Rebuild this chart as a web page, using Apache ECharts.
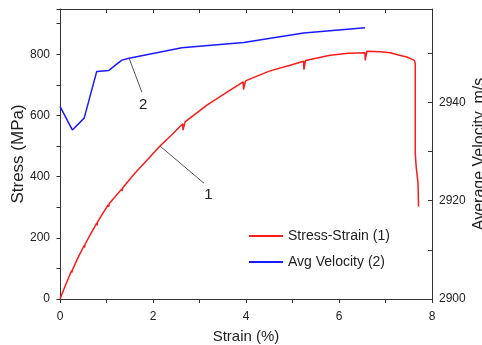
<!DOCTYPE html>
<html>
<head>
<meta charset="utf-8">
<script src="https://cdn.jsdelivr.net/npm/echarts@6/dist/echarts.min.js"></script>
<style>
  html, body { margin: 0; padding: 0; background: #fff; }
  #chart { width: 482px; height: 345px; }
</style>
</head>
<body>
<div id="chart"></div>
<script>
// stress-strain curve (1), small notches at each velocity reading
const strain = [
  0, 0.12, 0.25, 0.255, 0.27, 0.39, 0.52, 0.525, 0.54, 0.66, 0.79, 0.795, 0.81,
  0.92, 1.04, 1.045, 1.06, 1.19, 1.33, 1.335, 1.35, 1.61, 1.85, 2.15, 2.40,
  2.64, 2.645, 2.69, 3.16, 3.55, 3.94, 3.945, 3.99, 4.50, 4.95, 5.24, 5.245,
  5.28, 5.81, 6.20, 6.56, 6.565, 6.60, 6.89, 7.10, 7.30, 7.46, 7.62, 7.64,
  7.64, 7.66, 7.70, 7.71,
];
const stress = [
  0, 46, 93, 86, 96, 136, 175, 168, 179, 213, 248, 241, 252,
  280, 308, 301, 312, 335, 360, 353, 364, 411, 450, 500, 536,
  573, 552, 579, 634, 672, 710, 685, 713, 745, 764, 777, 750,
  780, 797, 803, 805, 780, 810, 808, 805, 797, 791, 780, 770,
  476, 432, 378, 302,
];

// average velocity (2)
const velStrain = [0, 0.265, 0.52, 0.79, 1.05, 1.33, 1.485, 2.62, 3.95, 5.24, 6.56];
const velocity = [2939.2, 2934.4, 2936.8, 2946.3, 2946.5, 2948.6, 2949.0, 2951.1, 2952.2, 2954.1, 2955.2];

// callouts "1" and "2"
const note1Line = [[2.15, 500], [3.10, 378]];
const note1Label = [3.19, 340];
const note2Line = [[1.485, 2949.0], [1.76, 2942.1]];
const note2Label = [1.79, 2939.4];

const names = ["Stress-Strain (1)", "Avg Velocity (2)"];

const INK = "#222";
const AXIS = "#333";
const FONT = "'Liberation Sans', Arial, sans-serif";
const TICK = { fontFamily: FONT, fontSize: 12, color: INK };
const TITLE = { fontFamily: FONT, fontSize: 16, color: INK };

const zip = (a, b) => a.map((v, i) => [v, b[i]]);

function callout(line, label, text) {
  return {
    markLine: {
      silent: true, symbol: "none", animation: false,
      lineStyle: { color: "#555", width: 1, type: "solid" },
      label: { show: false },
      data: [[{ coord: line[0] }, { coord: line[1] }]],
    },
    markPoint: {
      silent: true, symbolSize: 0, animation: false,
      label: { show: true, position: "inside", formatter: text,
        fontFamily: FONT, fontSize: 15, color: INK },
      data: [{ coord: label }],
    },
  };
}

const chart = echarts.init(document.getElementById("chart"), null, { renderer: "canvas" });
chart.setOption({
  animation: false,
  backgroundColor: "#fff",
  grid: { left: 60, right: 50, top: 9, bottom: 46, containLabel: false, outerBoundsMode: "none" },
  legend: {
    data: names, orient: "vertical", left: 243, top: 224,
    itemWidth: 34, itemHeight: 14, itemGap: 12,
    itemStyle: { opacity: 0 },
    textStyle: { fontFamily: FONT, fontSize: 14, color: INK },
  },
  xAxis: [
    {
      type: "value", min: 0, max: 8, interval: 1,
      name: "Strain (%)", nameLocation: "middle", nameGap: 30, nameMoveOverlap: false,
      nameTextStyle: { ...TITLE, fontSize: 15 },
      axisLine: { show: true, onZero: false, lineStyle: { color: AXIS } },
      axisTick: { show: true, inside: false, length: 4, lineStyle: { color: AXIS } },
      axisLabel: { ...TICK, margin: 12, formatter: (v) => (v % 2 === 0 ? String(v) : "") },
      splitLine: { show: false },
    },
    {
      type: "value", position: "top", min: 0, max: 8, interval: 1,
      axisLine: { show: true, onZero: false, lineStyle: { color: AXIS } },
      axisTick: { show: true, inside: true, length: 4, lineStyle: { color: AXIS } },
      axisLabel: { show: false },
      splitLine: { show: false },
    },
  ],
  yAxis: [
    {
      type: "value", min: 0, max: 948, interval: 100,
      name: "Stress (MPa)", nameLocation: "middle", nameGap: 33, nameRotate: 90,
      nameMoveOverlap: false,
      nameTextStyle: { ...TITLE, fontSize: 17 },
      axisLine: { show: true, onZero: false, lineStyle: { color: AXIS } },
      axisTick: { show: true, inside: false, length: 3.5, lineStyle: { color: AXIS } },
      axisLabel: { ...TICK, margin: 10, formatter: (v) => (v % 200 === 0 ? String(v) : "") },
      splitLine: { show: false },
    },
    {
      type: "value", position: "right", min: 2900, max: 2959, interval: 10,
      alignTicks: false,
      name: "Average Velocity, m/s", nameLocation: "middle", nameGap: 40, nameRotate: 90,
      nameMoveOverlap: false,
      nameTextStyle: TITLE,
      axisLine: { show: true, onZero: false, lineStyle: { color: AXIS } },
      axisTick: { show: true, inside: true, length: 4, lineStyle: { color: AXIS } },
      axisLabel: { ...TICK, margin: 7, formatter: (v) => (v % 20 === 0 ? String(v) : "") },
      splitLine: { show: false },
    },
  ],
  series: [
    {
      name: names[0], type: "line", data: zip(strain, stress),
      symbol: "none", lineStyle: { color: "#ff1a1a", width: 1.5 },
      itemStyle: { color: "#ff1a1a" }, z: 3,
      ...callout(note1Line, note1Label, "1"),
    },
    {
      name: names[1], type: "line", yAxisIndex: 1, data: zip(velStrain, velocity),
      symbol: "none", lineStyle: { color: "#1a1aff", width: 1.5 },
      itemStyle: { color: "#1a1aff" }, z: 3,
      ...callout(note2Line, note2Label, "2"),
    },
  ],
});
</script>
</body>
</html>
